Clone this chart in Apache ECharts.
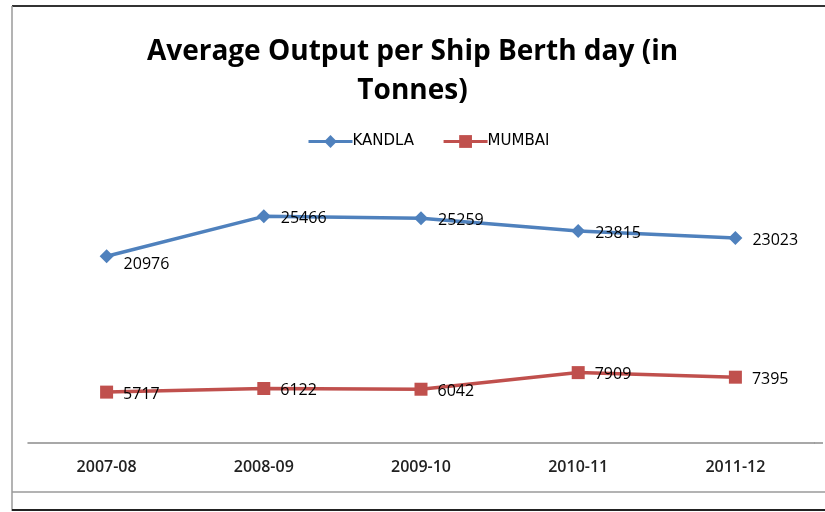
<!DOCTYPE html>
<html>
<head>
<meta charset="utf-8">
<script src="https://cdn.jsdelivr.net/npm/echarts@6/dist/echarts.min.js"></script>
<style>
  html, body { margin: 0; padding: 0; background: #fff; }
  #chart { width: 825px; height: 512px; }
</style>
</head>
<body>
<div id="chart"></div>
<script>
// data
const years = ['2007-08', '2008-09', '2009-10', '2010-11', '2011-12'];
const kandla = [20976, 25466, 25259, 23815, 23023];
const mumbai = [5717, 6122, 6042, 7909, 7395];

const colors = {
    kandla: '#4F81BD',
    mumbai: '#C0504D',
    axis: '#8c8c8c',
    frame: '#9a9a9a',
    text: '#000'
};

const chart = echarts.init(document.getElementById('chart'));

const labelStyle = {
    show: true,
    position: 'right',
    distance: 10,
    offset: [0, 2],
    color: colors.text,
    fontFamily: 'Open Sans',
    fontSize: 16
};

// first KANDLA label sits a bit lower in the original
const kandlaData = kandla.map((v, i) => i === 0 ? { value: v, label: { offset: [0, 8] } } : v);

const option = {
    backgroundColor: '#fff',
    animation: false,
    title: {
        text: 'Average Output per Ship Berth day (in\nTonnes)',
        left: 'center',
        top: 28,
        textStyle: {
            fontFamily: 'Open Sans',
            fontWeight: 'bold',
            fontSize: 28,
            lineHeight: 39,
            color: '#000'
        }
    },
    legend: {
        top: 129,
        left: 302,
        itemWidth: 44,
        itemHeight: 16,
        itemGap: 28,
        lineStyle: { width: 3 },
        textStyle: { fontFamily: 'DejaVu Sans', fontSize: 15, color: '#000', padding: [0, 0, 0, -5] },
        data: ['KANDLA', 'MUMBAI']
    },
    grid: { left: 28, right: 11, top: 176, bottom: 69 },
    xAxis: {
        type: 'category',
        data: years,
        boundaryGap: true,
        axisLine: { lineStyle: { color: colors.axis, width: 1.5 } },
        axisTick: { show: false },
        axisLabel: {
            margin: 16,
            fontFamily: 'Open Sans',
            fontWeight: 600,
            fontSize: 16,
            color: '#222'
        }
    },
    yAxis: {
        type: 'value',
        min: 0,
        max: 30000,
        show: false,
        splitLine: { show: false }
    },
    series: [
        {
            name: 'KANDLA',
            type: 'line',
            data: kandlaData,
            symbol: 'diamond',
            symbolSize: 14,
            color: colors.kandla,
            lineStyle: { width: 3.5, color: colors.kandla },
            itemStyle: { color: colors.kandla },
            label: labelStyle
        },
        {
            name: 'MUMBAI',
            type: 'line',
            data: mumbai,
            symbol: 'rect',
            symbolSize: 13,
            color: colors.mumbai,
            lineStyle: { width: 3.5, color: colors.mumbai },
            itemStyle: { color: colors.mumbai },
            label: labelStyle
        }
    ],
    graphic: [
        // outer frame of the pasted chart
        { type: 'line', shape: { x1: 12, y1: 6, x2: 825, y2: 6 }, style: { stroke: '#333', lineWidth: 2 } },
        { type: 'line', shape: { x1: 12, y1: 6, x2: 12, y2: 511 }, style: { stroke: colors.frame, lineWidth: 1.5 } },
        { type: 'line', shape: { x1: 12, y1: 492, x2: 825, y2: 492 }, style: { stroke: colors.frame, lineWidth: 1.5 } },
        { type: 'line', shape: { x1: 12, y1: 510, x2: 825, y2: 510 }, style: { stroke: '#222', lineWidth: 2 } },
        { type: 'line', shape: { x1: 814, y1: 443, x2: 823, y2: 443 }, style: { stroke: colors.axis, lineWidth: 1.5 } }
    ]
};

chart.setOption(option);
</script>
</body>
</html>
